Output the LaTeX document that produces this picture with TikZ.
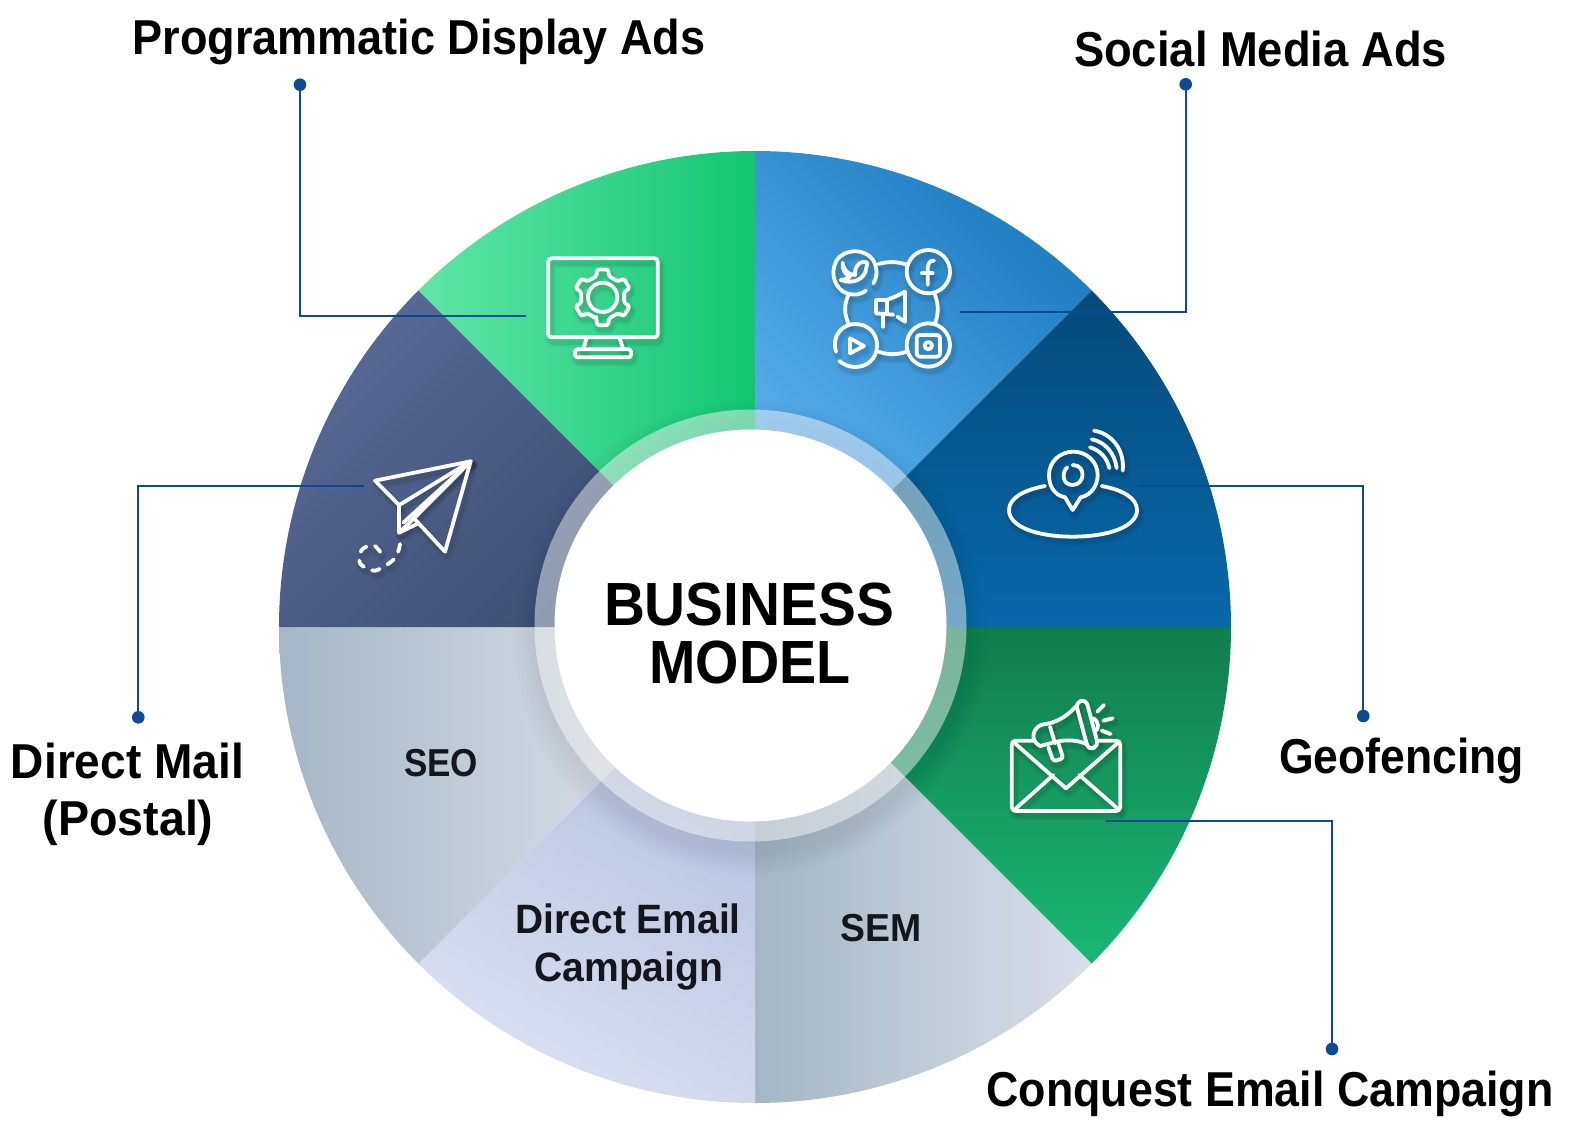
\documentclass[tikz,border=0pt]{standalone}
\usepackage{fontspec}
\usepackage{graphicx}
\setmainfont{Liberation Sans}
\definecolor{lineblue}{HTML}{0A4A96}
\definecolor{innertext}{HTML}{14161C}
\definecolor{gA}{HTML}{5FE6A8}\definecolor{gB}{HTML}{14C573}
\definecolor{bA}{HTML}{62B6F0}\definecolor{bB}{HTML}{1E7CC2}
\definecolor{dA}{HTML}{054A7A}\definecolor{dB}{HTML}{0868AA}
\definecolor{eA}{HTML}{117D4E}\definecolor{eB}{HTML}{1AB874}
\definecolor{mA}{HTML}{A4B6C4}\definecolor{mB}{HTML}{B4B8D0}\definecolor{mC}{HTML}{DADFEA}
\definecolor{fA}{HTML}{DAE0F2}\definecolor{fB}{HTML}{B0BCDA}
\definecolor{sA}{HTML}{A6B6C6}\definecolor{sB}{HTML}{C0C4DA}\definecolor{sC}{HTML}{EAECF2}
\definecolor{nA}{HTML}{566894}\definecolor{nB}{HTML}{3A4C70}
\tikzset{
  linkline/.style={draw=lineblue,line width=2pt},
  linkdot/.style={circle,fill=lineblue,inner sep=0pt,minimum size=12.6pt},
  txt/.style={anchor=base,inner sep=0pt,text=black},
  intxt/.style={anchor=base,inner sep=0pt,text=innertext},
}
\newcommand\fitlabel[3]{\resizebox{#1pt}{\height}{\fontsize{#2pt}{#2pt}\selectfont\bfseries #3}}
\newcommand\sector[3]{\path[#3] (0,0) -- (#1:476) arc[start angle=#1,end angle=#2,radius=476] -- cycle;}
\newcommand\iconlayers[1]{%
  \begin{scope}[shift={(6,12)},color=black,opacity=.04,line width=11pt,line cap=round,line join=round] #1 \end{scope}
  \begin{scope}[shift={(6,12)},color=black,opacity=.07,line width=7pt,line cap=round,line join=round] #1 \end{scope}
  \begin{scope}[color=white,line width=3.8pt,line cap=round,line join=round] #1 \end{scope}}
\begin{document}
\begin{tikzpicture}[x=1pt,y=-1pt]
\useasboundingbox (0,0) rectangle (1582,1136);
\fill[white] (0,0) rectangle (1582,1136);
% wheel
\begin{scope}[shift={(755,627)},y=1pt]
  \sector{135}{90}{left color=gA,right color=gB}
  \sector{90}{45}{bottom color=bA,top color=bB,shading angle=-45}
  \sector{45}{0}{top color=dA,bottom color=dB}
  \sector{0}{-45}{top color=eA,bottom color=eB}
  \sector{-45}{-90}{left color=mA,middle color=mB,right color=mC}
  \sector{-90}{-135}{bottom color=fA,top color=fB,shading angle=-30}
  \sector{-135}{-180}{left color=sA,middle color=sB,right color=sC}
  \sector{180}{135}{bottom color=nB,top color=nA,shading angle=45}
\end{scope}
\begin{scope}[shift={(750.5,625.5)},y=1pt]
  \begin{scope}
    \clip (4.5,-1.5) circle[radius=476];
    \foreach \r in {217,220,...,238} \fill[black,opacity=.008] (0,-12) circle[radius=\r];
  \end{scope}
  \fill[white,opacity=.46] (0,0) circle[radius=216];
  \fill[white] (0,0) circle[radius=196];
\end{scope}
% connectors
\node[linkdot] (dotprog) at (300,84.7) {};
\coordinate (endprog) at (526,316);
\draw[linkline] (dotprog.center) |- (endprog);
\node[linkdot] (dotsoc) at (1185.7,84.3) {};
\coordinate (endsoc) at (960,311.7);
\draw[linkline] (dotsoc.center) |- (endsoc);
\node[linkdot] (dotgeo) at (1363.3,716) {};
\coordinate (endgeo) at (1138,486);
\draw[linkline] (dotgeo.center) |- (endgeo);
\node[linkdot] (dotcon) at (1332,1049) {};
\coordinate (endcon) at (1106,820.7);
\draw[linkline] (dotcon.center) |- (endcon);
\node[linkdot] (dotmail) at (138.3,717.3) {};
\coordinate (endmail) at (364,486);
\draw[linkline] (dotmail.center) |- (endmail);
% monitor + social icons
\begin{scope}[shift={(500,220)},x=0.33333pt,y=-0.33333pt]
\iconlayers{
  \draw[rounded corners=3pt] (145,115) rectangle (473,352);
  \draw (260,352) -- (250,388) (358,352) -- (370,388);
  \draw[rounded corners=2.5pt] (225,388) rectangle (393,412);
  \begin{scope}[shift={(308,232)}]
    \draw[rounded corners=1.5pt] (107:66) \foreach \a in {90,30,-30,-90,-150,-210} { -- (\a+17:66) -- (\a+11:85) -- (\a-11:85) -- (\a-17:66) } -- cycle;
    \draw (0,0) circle[radius=44];
  \end{scope}
  % social
  \draw (1098,212) .. controls (1085,222) and (1065,228) .. (1040,220) .. controls (1008,208) and (988,165) .. (1008,125) .. controls (1030,84) and (1098,82) .. (1122,125) .. controls (1133,150) and (1132,170) .. (1120,190);
  \draw (1285,155) circle[radius=65];
  \draw (1008,395) .. controls (993,345) and (1030,312) .. (1065,312) .. controls (1105,312) and (1131,340) .. (1131,375) .. controls (1131,418) and (1100,441) .. (1065,441) .. controls (1045,441) and (1030,433) .. (1018,423);
  \draw (1285,375) circle[radius=65];
  \draw (1135,132) .. controls (1165,124) and (1190,124) .. (1220,134);
  \draw (1135,395) .. controls (1165,405) and (1190,405) .. (1220,395);
  \draw (1045,225) .. controls (1032,255) and (1032,280) .. (1045,310);
  \draw (1305,225) .. controls (1316,255) and (1316,280) .. (1305,310);
  % bird
  \draw (1028,128) .. controls (1030,150) and (1045,165) .. (1065,165) .. controls (1062,140) and (1082,118) .. (1102,128) -- (1098,148) .. controls (1095,175) and (1060,195) .. (1022,180) .. controls (1035,178) and (1045,175) .. (1050,170) .. controls (1035,165) and (1025,145) .. (1028,128);
  % f
  \draw (1283,195) -- (1283,150) .. controls (1283,128) and (1290,122) .. (1302,122);
  \draw (1266,160) -- (1298,160);
  % play
  \draw (1050,355) -- (1050,400) -- (1092,378) -- cycle;
  % insta
  \draw[rounded corners=3pt] (1250,345) rectangle (1320,410);
  \draw (1285,377) circle[radius=11];
  % megaphone
  \draw (1190,228) -- (1215,215) -- (1215,305) -- (1192,290);
  \draw (1128,240) -- (1160,240) -- (1190,228);
  \draw (1128,240) -- (1128,280) -- (1180,284);
  \draw (1162,240) -- (1162,282);
  \draw (1148,285) -- (1148,320);
}
\end{scope}
% paper plane
\begin{scope}[shift={(340,420)},x=0.33333pt,y=-0.33333pt]
\iconlayers{
  \draw (105,182) -- (392,124) -- (315,395) -- (222,295) -- (177,338) -- (177,255) -- cycle;
  \draw (178,255) -- (392,124);
  \draw (190,308) -- (392,124);
  \draw (222,295) -- (392,124);
  \draw (177,338) -- (235,310);
  \draw[dash pattern=on 8pt off 9pt] plot[smooth] coordinates {(180,372) (165,415) (105,452) (60,430) (65,390) (100,375) (125,402)};
}
\end{scope}
% geofence and envelope
\begin{scope}[shift={(990,410)},x=0.33333pt,y=-0.33333pt]
\iconlayers{
  \draw (165,228) .. controls (100,240) and (57,265) .. (57,300) .. controls (57,350) and (140,380) .. (248,380) .. controls (355,380) and (441,350) .. (441,300) .. controls (441,265) and (400,240) .. (335,228);
  \draw (225,262) .. controls (190,255) and (177,225) .. (177,195) .. controls (177,155) and (210,125) .. (250,125) .. controls (290,125) and (323,155) .. (323,195) .. controls (323,225) and (305,255) .. (272,262) -- (248,300) -- cycle;
  \draw (232,172) .. controls (215,185) and (215,225) .. (248,225) .. controls (285,225) and (290,165) .. (248,165);
  \draw (300,112) .. controls (330,120) and (352,145) .. (358,175);
  \draw (305,88) .. controls (345,95) and (375,130) .. (380,175);
  \draw (312,62) .. controls (365,70) and (405,120) .. (398,182);
  % envelope
  \draw[rounded corners=4pt] (135,992) -| (65,1203) -| (391,992) -- (322,992);
  \draw (75,1000) -- (228,1135) -- (382,1000);
  \draw (78,1195) -- (190,1095);
  \draw (382,1195) -- (268,1095);
  \draw[rounded corners=5pt] (257,878) -- (288,868) -- (325,1008) -- (295,1020) -- cycle;
  \draw (257,890) .. controls (225,925) and (190,940) .. (165,942) .. controls (130,945) and (115,990) .. (150,1008) -- (200,995) .. controls (230,988) and (270,990) .. (293,1005);
  \draw (180,950) -- (195,1000);
  \draw[rounded corners=3pt] (175,1012) -- (190,1054) -- (220,1045) -- (205,1000);
  \draw (308,925) .. controls (328,930) and (328,960) .. (314,965);
  \draw (322,905) -- (342,885) (340,932) -- (368,925) (335,962) -- (362,972);
}
\end{scope}
% labels
\node[txt] (lprog) at (419,54.5) {\fitlabel{573}{49}{Programmatic Display Ads}};
\node[txt] (lsoc) at (1260.5,66.7) {\fitlabel{373}{49}{Social Media Ads}};
\node[txt] (lgeo) at (1401.5,773) {\fitlabel{245}{49}{Geofencing}};
\node[txt] (lmaila) at (127.5,778.3) {\fitlabel{233}{49}{Direct Mail}};
\node[txt] (lmailb) at (128,835) {\fitlabel{171}{49}{(Postal)}};
\node[txt] (lcon) at (1270,1106.7) {\fitlabel{567}{49}{Conquest Email Campaign}};
\node[intxt] (lseo) at (441,776.7) {\fitlabel{74}{39}{SEO}};
\node[intxt] (lsem) at (881,941) {\fitlabel{81}{39}{SEM}};
\node[intxt] (ldea) at (628.3,933.3) {\fitlabel{225}{41}{Direct Email}};
\node[intxt] (ldeb) at (628.8,981.7) {\fitlabel{189}{41}{Campaign}};
\node[txt] (lbiz) at (749,625) {\fitlabel{290}{61}{BUSINESS}};
\node[txt] (lmod) at (750,683.3) {\fitlabel{201}{61}{MODEL}};
\end{tikzpicture}
\end{document}
